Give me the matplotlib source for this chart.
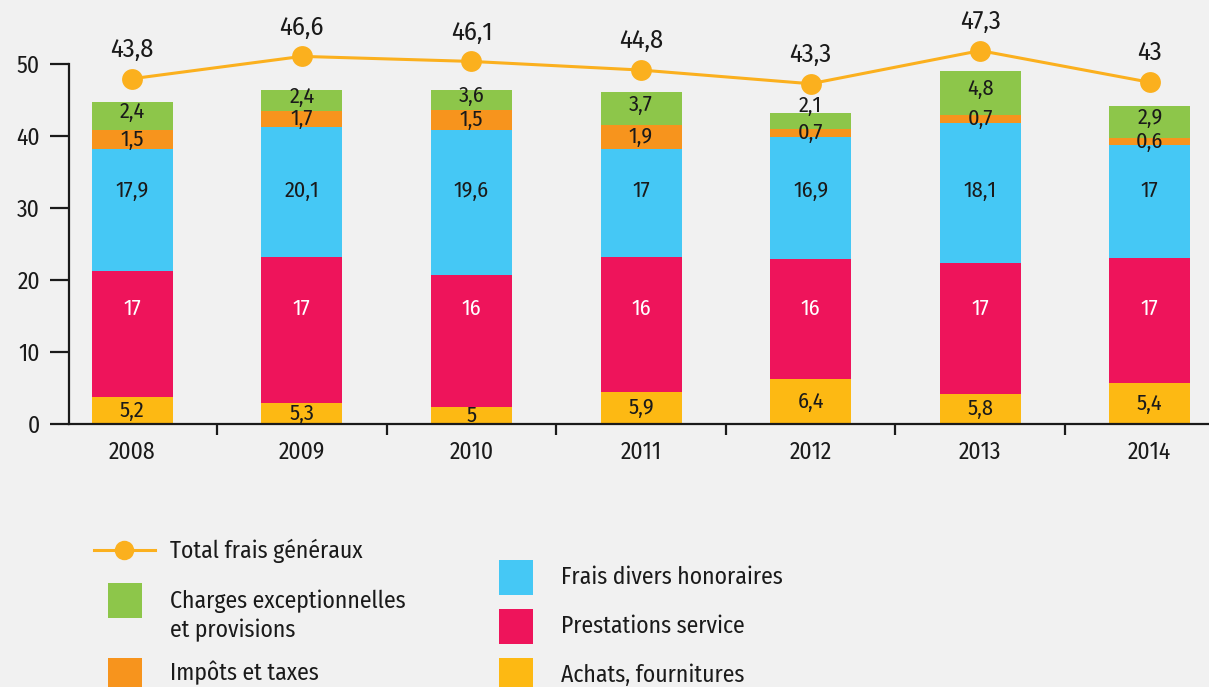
import numpy as np
import matplotlib
matplotlib.use("Agg")
import matplotlib.pyplot as plt
from matplotlib.patches import Rectangle
from matplotlib.lines import Line2D

plt.rcParams["font.family"] = ["Fira Sans Condensed", "DejaVu Sans"]

# DONNEES
annees = ["2008", "2009", "2010", "2011", "2012", "2013", "2014"]

# hauteurs des segments telles que dessinées
achats = [3.8, 2.9, 2.4, 4.5, 6.3, 4.2, 5.7]
prestations = [17.5, 20.4, 18.3, 18.8, 16.6, 18.2, 17.4]
frais_divers = [16.9, 18.0, 20.2, 15.0, 17.0, 19.5, 15.7]
impots = [2.7, 2.2, 2.8, 3.2, 1.1, 1.1, 1.0]
charges = [3.9, 2.9, 2.7, 4.6, 2.2, 6.1, 4.4]
total_points = [48.0, 51.1, 50.4, 49.2, 47.3, 51.9, 47.5]

# valeurs affichées
achats_lbl = [5.2, 5.3, 5, 5.9, 6.4, 5.8, 5.4]
prestations_lbl = [17, 17, 16, 16, 16, 17, 17]
frais_divers_lbl = [17.9, 20.1, 19.6, 17, 16.9, 18.1, 17]
impots_lbl = [1.5, 1.7, 1.5, 1.9, 0.7, 0.7, 0.6]
charges_lbl = [2.4, 2.4, 3.6, 3.7, 2.1, 4.8, 2.9]
total_lbl = [43.8, 46.6, 46.1, 44.8, 43.3, 47.3, 43]

# COULEURS
c_achats = "#fdb913"
c_prest = "#ee145b"
c_frais = "#45c8f5"
c_impots = "#f7941d"
c_charges = "#8dc64a"
c_total = "#fbb01e"
fond = "#f1f1f1"
noir = "#1a1a1a"


def fmt(v):
    return f"{v:g}".replace(".", ",")


fig = plt.figure(figsize=(12.09, 6.87), dpi=100, facecolor=fond)
ax = fig.add_axes([69 / 1209, 1 - 424.3 / 687, 1 - 69 / 1209, 424.3 / 687])
ax.set_facecolor(fond)

x = np.arange(len(annees))
w = 0.478

series = [
    (achats, achats_lbl, c_achats, noir),
    (prestations, prestations_lbl, c_prest, "white"),
    (frais_divers, frais_divers_lbl, c_frais, noir),
    (impots, impots_lbl, c_impots, noir),
    (charges, charges_lbl, c_charges, noir),
]

bas = np.zeros(len(annees))
for k, (h, lbl, col, tcol) in enumerate(series):
    h = np.array(h)
    ax.bar(x, h, w, bottom=bas, color=col, linewidth=0, zorder=2)
    for i in range(len(annees)):
        if k == 1:
            yl = 16.0
        elif k == 2:
            yl = 32.4
        elif k == 4:
            if h[i] < 2.5:
                yl = bas[i] + h[i] + 1.1
            else:
                yl = bas[i] + h[i] / 2 + 0.6
        else:
            yl = bas[i] + h[i] / 2
        ax.text(x[i], yl, fmt(lbl[i]), ha="center", va="center",
                fontsize=16, color=tcol, zorder=4)
    bas = bas + h

# LIGNE TOTAL
ax.plot(x, total_points, color=c_total, linewidth=2.2, marker="o",
        markersize=15, markeredgewidth=0, zorder=3)
for i in range(len(annees)):
    ax.annotate(fmt(total_lbl[i]), (x[i], total_points[i]), xytext=(0, 21),
                textcoords="offset points", ha="center", va="center",
                fontsize=19, color=noir)

# AXES
ax.set_xlim(-0.373, 6.349)
ax.set_ylim(0, 58.93)
ax.set_yticks([0, 10, 20, 30, 40, 50])
ax.set_xticks(x)
ax.set_xticklabels(annees)
ax.set_xticks(x[:-1] + 0.5, minor=True)
ax.tick_params(axis="x", which="major", length=0, pad=12, labelsize=17,
               labelcolor=noir)
ax.tick_params(axis="x", which="minor", length=8, width=1.6, direction="out",
               color=noir)
ax.tick_params(axis="y", length=14, width=1.6, pad=7, labelsize=17,
               labelcolor=noir, color=noir)

for s in ["top", "right"]:
    ax.spines[s].set_visible(False)
ax.spines["left"].set_bounds(0, 50)
ax.spines["left"].set_linewidth(1.6)
ax.spines["bottom"].set_linewidth(1.6)
ax.spines["left"].set_color(noir)
ax.spines["bottom"].set_color(noir)


# LEGENDE
def px(xp, yp):
    return xp / 1209, 1 - yp / 687


def carre(x0, y0, col):
    fx, fy = px(x0, y0 + 35)
    fig.add_artist(Rectangle((fx, fy), 34 / 1209, 35 / 687, color=col,
                             transform=fig.transFigure, linewidth=0))


lx0, ly = px(94, 550)
lx1, _ = px(155, 550)
fig.add_artist(Line2D([lx0, lx1], [ly, ly], color=c_total, linewidth=2.2,
                      transform=fig.transFigure))
cx, cy = px(124, 550)
fig.add_artist(Line2D([cx], [cy], color=c_total, marker="o", markersize=14,
                      markeredgewidth=0, transform=fig.transFigure))

legende = [
    (170, 551, "Total frais généraux"),
    (170, 601, "Charges exceptionnelles"),
    (170, 630, "et provisions"),
    (170, 673, "Impôts et taxes"),
    (561, 577, "Frais divers honoraires"),
    (561, 626, "Prestations service"),
    (561, 675, "Achats, fournitures"),
]
for xp, yp, t in legende:
    fx, fy = px(xp, yp)
    fig.text(fx, fy, t, ha="left", va="center", fontsize=17, color=noir)

carre(108, 583, c_charges)
carre(108, 658, c_impots)
carre(499, 560, c_frais)
carre(499, 609, c_prest)
carre(499, 658, c_achats)

plt.savefig("out.png", dpi=100, facecolor=fond)
